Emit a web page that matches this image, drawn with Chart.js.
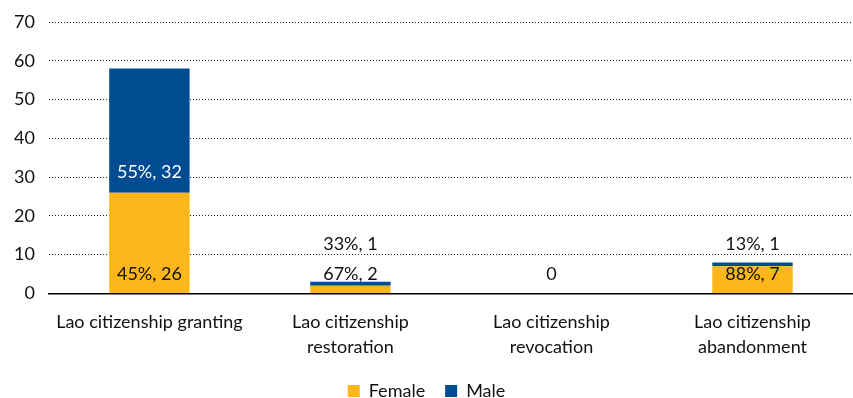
<!DOCTYPE html>
<html>
<head>
<meta charset="utf-8">
<script src="https://cdn.jsdelivr.net/npm/chart.js@4"></script>
<style>
  html, body { margin: 0; padding: 0; background: #fff; }
  #wrap { width: 853px; height: 398px; }
</style>
</head>
<body>
<div id="wrap"><canvas id="chart"></canvas></div>
<script>
const categories = [
	['Lao citizenship granting'],
	['Lao citizenship', 'restoration'],
	['Lao citizenship', 'revocation'],
	['Lao citizenship', 'abandonment']
];
const femaleValues = [26, 2, 0, 7];
const maleValues = [32, 1, 0, 1];
const femaleLabels = ['45%, 26', '67%, 2', '0', '88%, 7'];
const maleLabels = ['55%, 32', '33%, 1', '', '13%, 1'];

const FONT = 'Lato, "Open Sans", sans-serif';

// writes the share labels on each segment
const segmentLabels = {
	id: 'segmentLabels',
	afterDatasetsDraw(chart) {
		const ctx = chart.ctx;
		const fMeta = chart.getDatasetMeta(0);
		const mMeta = chart.getDatasetMeta(1);
		ctx.save();
		ctx.font = '18px ' + FONT;
		ctx.textAlign = 'center';
		ctx.textBaseline = 'middle';
		fMeta.data.forEach((bar, i) => {
			const fy = bar.base - 19;
			ctx.fillStyle = '#111';
			ctx.fillText(femaleLabels[i], bar.x, fy);
			const mBar = mMeta.data[i];
			if (maleLabels[i]) {
				const my = Math.min(mBar.base - 20, fy - 30);
				ctx.fillStyle = (mBar.base - mBar.y) > 30 ? '#fff' : '#111';
				ctx.fillText(maleLabels[i], mBar.x, my);
			}
		});
		ctx.restore();
	}
};

new Chart(document.getElementById('chart'), {
	type: 'bar',
	data: {
		labels: categories,
		datasets: [{
			label: 'Female',
			data: femaleValues,
			backgroundColor: '#FDB71A',
			borderWidth: 0,
			barPercentage: 0.4,
			categoryPercentage: 1.0
		}, {
			label: 'Male',
			data: maleValues,
			backgroundColor: '#004C93',
			borderWidth: 0,
			barPercentage: 0.4,
			categoryPercentage: 1.0
		}]
	},
	options: {
		responsive: true,
		maintainAspectRatio: false,
		animation: false,
		layout: { padding: { top: 0, right: 0, left: 0, bottom: -12 } },
		scales: {
			x: {
				stacked: true,
				afterFit: scale => { scale.height -= 6; },
				grid: { display: false },
				border: { display: true, color: '#000', width: 1.5 },
				ticks: {
					color: '#111',
					font: { family: FONT, size: 18, lineHeight: 1.35 },
					padding: 9,
					maxRotation: 0
				}
			},
			y: {
				stacked: true,
				min: 0,
				max: 70,
				ticks: {
					stepSize: 10,
					color: '#111',
					font: { family: FONT, size: 18, lineHeight: 0.9 },
					padding: 14
				},
				border: { display: false, dash: [1, 2] },
				grid: {
					drawTicks: false,
					color: c => c.tick.value === 0 ? 'rgba(0,0,0,0)' : '#222',
					lineWidth: 1
				}
			}
		},
		plugins: {
			legend: {
				position: 'bottom',
				labels: {
					color: '#111',
					font: { family: FONT, size: 18 },
					boxWidth: 12,
					boxHeight: 12,
					padding: 20
				}
			},
			tooltip: { enabled: false }
		}
	},
	plugins: [segmentLabels]
});
</script>
</body>
</html>
